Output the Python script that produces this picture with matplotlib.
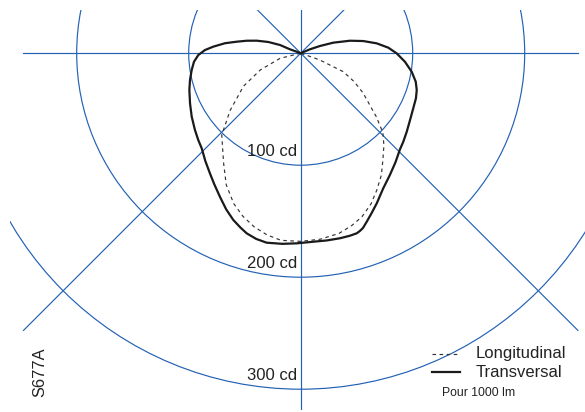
import numpy as np
import matplotlib
matplotlib.use("Agg")
import matplotlib.pyplot as plt
from matplotlib.patches import Circle
from matplotlib.lines import Line2D

# ---- data (angle from nadir in degrees, intensity in cd per 1000 lm) ----
# transversal curve, traced from the left cusp round to the right cusp
trans_angle = [-112, -110, -111.6, -109.1, -105.9, -103.0, -100.2, -97.5, -94.3,
               -91.9, -89.0, -85.4, -81.2, -76.4, -71.7, -65.6, -59.8, -54.0,
               -49.7, -46.1, -41.5, -37.1, -33.5, -29.4, -25.5, -22.0, -19.0,
               -16.7, -13.5, -10.2, -5.5, -1.2, 3.8, 8.0, 12.0, 15.0, 17.3,
               18.4, 19.6, 21.4, 24.0, 26.9, 31.4, 36.2, 41.0,
               45.9, 49.2, 53.5, 58.6, 63.9, 68.6, 72.4, 76.1, 80.5, 85.3,
               89.9, 93.6, 97.4, 101.0, 104.2, 107.9, 110.5, 112.8, 115]
trans_cd = [0, 10.2, 19.9, 30.6, 40.8, 49.5, 58.0, 68.2, 78.2,
            85.5, 91.4, 95.6, 98.5, 101.7, 104.7, 108.5, 112.6, 116.7,
            119.9, 122.6, 128.5, 134.4, 140.0, 147.0, 154.5, 160.6, 164.8,
            167.9, 170.5, 171.9, 171.0, 169.8, 168.7, 168.8, 168.9, 168.8, 168.4,
            167.3, 165.7, 161.6, 156.0, 150.2, 141.4, 134.8, 129.0,
            123.4, 121.0, 117.8, 114.4, 111.9, 110.5, 108.7, 105.8, 100.5, 93.4,
            85.7, 78.4, 68.4, 56.9, 45.4, 30.6, 18.4, 9.0, 0]

long_angle = [-80, -76, -67.5, -60, -51, -44, -35, -29.5, -24, -19.5, -15, -10.5,
              -6, 0, 6, 12, 16.5, 20.5, 25, 29, 33.5, 37.5, 42, 46, 50, 57.5,
              62, 66.5, 70.5, 76]
long_cd = [0, 19, 39, 59, 81, 101.5, 120, 135, 147, 154.5, 160.5, 165,
           168, 168, 167, 164.5, 160.5, 156, 148.5, 140, 130.5, 120.5, 111,
           102, 88, 66, 54, 41.5, 18, 0]

ring_cd = [100, 200, 300]
ring_labels = ["100 cd", "200 cd", "300 cd"]
ray_angles = [0, 45, -45]
legend_labels = ["Longitudinal", "Transversal"]
note = "Pour 1000 lm"
code = "S677A"

BLUE = "#2361b4"
INK = "#222222"
FONT = ["Liberation Sans", "DejaVu Sans"]

W, H = 585, 412
fig = plt.figure(figsize=(W / 100, H / 100), dpi=100)
ax = fig.add_axes([10 / W, 2 / H, 575 / W, 400 / H])
ax.set_xlim(-259.55, 253.84)
ax.set_ylim(-318.57, 38.57)
ax.axis("off")


def to_xy(ang, cd):
    a = np.radians(np.asarray(ang, dtype=float))
    cd = np.asarray(cd, dtype=float)
    return cd * np.sin(a), -cd * np.cos(a)


# grid rings
for r in ring_cd:
    ax.add_patch(Circle((0, 0), r, fill=False, ec=BLUE, lw=0.85))
# rays
for a in ray_angles:
    x, y = to_xy([a, a + 180], [350, 350])
    ax.plot(x, y, color=BLUE, lw=0.85)
ax.plot([-248, 248], [0, 0], color=BLUE, lw=0.85)

# curves
x, y = to_xy(long_angle, long_cd)
ax.plot(x, y, color="#333333", lw=0.85, ls=(0, (3, 3)))
x, y = to_xy(trans_angle, trans_cd)
ax.plot(x, y, color="#1a1a1a", lw=1.6, solid_joinstyle="round")

# ring labels
for r, lab in zip(ring_cd, ring_labels):
    ax.text(-3.3, -(r - 8.6), lab, ha="right", va="baseline", fontsize=12,
            color=INK, family=FONT, clip_on=False)


def fx(px):
    return px / W


def fy(py):
    return 1 - py / H


# legend
fig.add_artist(Line2D([fx(431.7), fx(459.5)], [fy(354.3)] * 2, color="#333333",
                      lw=0.85, ls=(0, (3, 3))))
fig.add_artist(Line2D([fx(431.7), fx(460)], [fy(372.3)] * 2, color="#1a1a1a",
                      lw=1.6))
fig.text(fx(476), fy(358), legend_labels[0], ha="left", va="baseline",
         fontsize=12, color=INK, family=FONT)
fig.text(fx(476), fy(376.7), legend_labels[1], ha="left", va="baseline",
         fontsize=12, color=INK, family=FONT)
fig.text(fx(442), fy(395.7), note, ha="left", va="baseline",
         fontsize=8.8, color=INK, family=FONT)
fig.text(fx(32), fy(397), code, ha="left", va="bottom", rotation=90,
         fontsize=11.8, color=INK, family=FONT)

fig.savefig("out.png", dpi=100)
